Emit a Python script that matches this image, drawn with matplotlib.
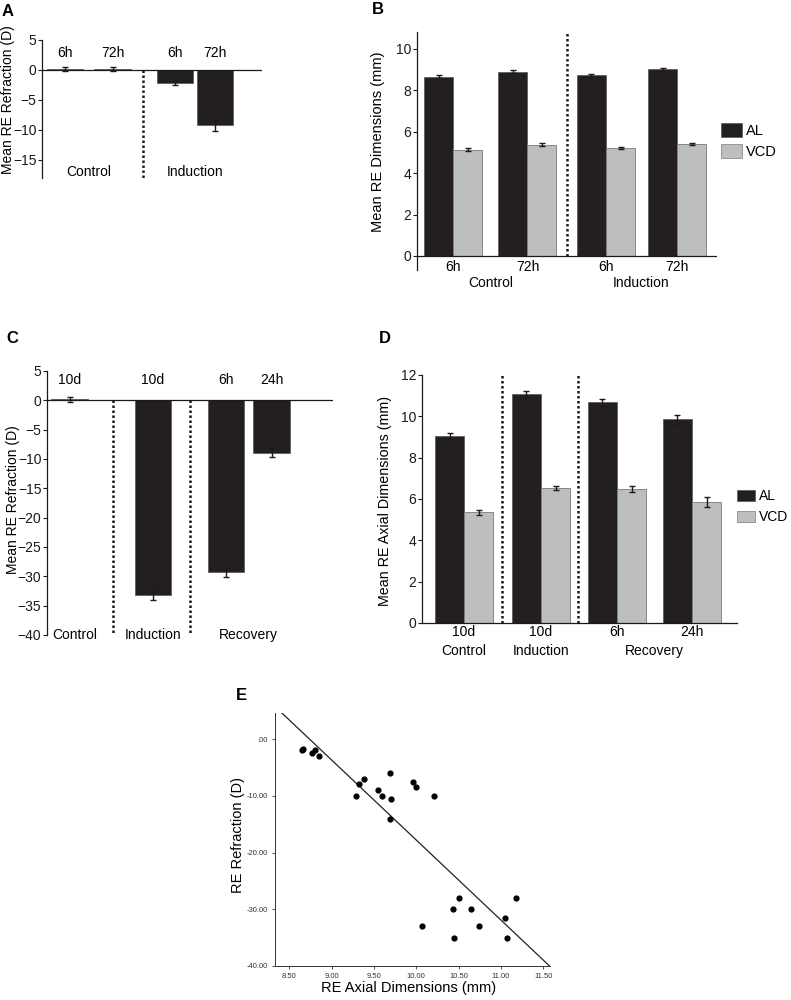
import matplotlib
matplotlib.use("Agg")
import matplotlib.pyplot as plt
from matplotlib.patches import Patch
import numpy as np

plt.rcParams['font.family'] = ['Liberation Sans', 'DejaVu Sans']

# ---- data ----
# A: refraction, short-term
a_times = ['6h', '72h', '6h', '72h']
a_groups = ['Control', 'Induction']
a_values = [0.2, 0.2, -2.2, -9.2]
a_errors = [0.3, 0.3, 0.3, 0.9]

# B: dimensions, short-term
b_times = ['6h', '72h', '6h', '72h']
b_groups = ['Control', 'Induction']
b_al = [8.65, 8.89, 8.72, 9.01]
b_al_err = [0.07, 0.07, 0.06, 0.07]
b_vcd = [5.13, 5.38, 5.21, 5.42]
b_vcd_err = [0.07, 0.06, 0.04, 0.06]

# C: refraction, long-term
c_times = ['10d', '10d', '6h', '24h']
c_groups = ['Control', 'Induction', 'Recovery']
c_values = [0.2, -33.1, -29.3, -8.9]
c_errors = [0.4, 0.9, 0.8, 0.7]

# D: axial dimensions, long-term
d_times = ['10d', '10d', '6h', '24h']
d_groups = ['Control', 'Induction', 'Recovery']
d_al = [9.05, 11.07, 10.68, 9.85]
d_al_err = [0.15, 0.15, 0.18, 0.2]
d_vcd = [5.35, 6.55, 6.47, 5.87]
d_vcd_err = [0.1, 0.1, 0.15, 0.25]

# E: scatter of refraction vs axial length
e_axial = [8.65, 8.66, 8.77, 8.80, 8.85, 9.29, 9.32, 9.38, 9.55, 9.59, 9.69, 9.70,
           9.69, 9.96, 10.00, 10.21, 10.07, 10.43, 10.45, 10.51, 10.65, 10.74,
           11.05, 11.07, 11.18]
e_refr = [-1.9, -1.7, -2.5, -2.0, -3.0, -10.0, -8.0, -7.0, -9.0, -10.0, -6.0, -10.5,
          -14.0, -7.5, -8.5, -10.0, -33.0, -30.0, -35.0, -28.0, -30.0, -33.0,
          -31.5, -35.0, -28.0]
e_fit_slope = -14.1
e_fit_intercept = 123.2

AL_COLOR = '#231f20'
VCD_COLOR = '#bdbec0'
DARK = '#1a1a1a'
W, H = 791, 1000

fig = plt.figure(figsize=(W / 100, H / 100), dpi=100)


def px_axes(left, top, right, bottom):
    return fig.add_axes([left / W, 1 - bottom / H, (right - left) / W, (bottom - top) / H])


def style_left(ax):
    for s in ['top', 'right', 'bottom']:
        ax.spines[s].set_visible(False)
    ax.spines['left'].set_linewidth(0.9)
    ax.spines['left'].set_color(DARK)
    ax.tick_params(axis='y', direction='out', length=3, width=0.8, labelsize=10, pad=1, colors=DARK)
    ax.tick_params(axis='x', length=0, labelbottom=False)


def divider(ax, x, y0, y1):
    ax.plot([x, x], [y0, y1], color=DARK, lw=1.8, ls=(0, (1, 1)), clip_on=False)


ekw = dict(ecolor=DARK, elinewidth=1, capsize=2.5, capthick=1)

# ---------- A ----------
axA = px_axes(42, 40, 262, 178)
a_pos = [0.49, 1.5, 2.83, 3.68]
axA.bar(a_pos, a_values, 0.78, color=AL_COLOR, edgecolor='#555555', lw=0.5,
        yerr=a_errors, error_kw=ekw, zorder=2)
axA.axhline(0, color=DARK, lw=0.9, zorder=3)
axA.set_xlim(0, 4.68)
axA.set_ylim(-18, 5)
axA.set_yticks([5, 0, -5, -10, -15])
style_left(axA)
divider(axA, 2.15, 0, -18)
for x, t in zip(a_pos, a_times):
    axA.text(x, 2.8, t, ha='center', va='center', fontsize=10)
for i, g in enumerate(a_groups):
    axA.text(np.mean(a_pos[2 * i:2 * i + 2]), -17.0, g, ha='center', va='center', fontsize=10)
fig.text(8 / W, 1 - 100 / H, 'Mean RE Refraction (D)', rotation=90, ha='center', va='center', fontsize=10)

# ---------- B ----------
axB = px_axes(417, 32, 717, 270)
b_pos = np.array([0.493, 1.493, 2.554, 3.514])
bw = 0.392
axB.bar(b_pos - bw / 2, b_al, bw, color=AL_COLOR, edgecolor='#555555', lw=0.5,
        yerr=b_al_err, error_kw=ekw, label='AL', zorder=2)
axB.bar(b_pos + bw / 2, b_vcd, bw, color=VCD_COLOR, edgecolor='#7a7a7a', lw=0.6,
        yerr=b_vcd_err, error_kw=ekw, label='VCD', zorder=2)
axB.axhline(0, color=DARK, lw=0.9, zorder=3)
axB.set_xlim(0, 4.054)
axB.set_ylim(-0.68, 10.82)
axB.set_yticks([0, 2, 4, 6, 8, 10])
style_left(axB)
divider(axB, 2.027, 0, 10.82)
for x, t in zip(b_pos, b_times):
    axB.text(x, -0.53, t, ha='center', va='center', fontsize=10, clip_on=False)
for i, g in enumerate(b_groups):
    axB.text(np.mean(b_pos[2 * i:2 * i + 2]), -1.3, g, ha='center', va='center', fontsize=10, clip_on=False)
fig.text(378 / W, 1 - 142 / H, 'Mean RE Dimensions (mm)', rotation=90, ha='center', va='center', fontsize=10.5)
handles = [Patch(facecolor=AL_COLOR, edgecolor='#555555', lw=0.5),
           Patch(facecolor=VCD_COLOR, edgecolor='#7a7a7a', lw=0.5)]
fig.legend(handles, ['AL', 'VCD'], loc='upper left', bbox_to_anchor=(721 / W, 1 - 123 / H),
           frameon=False, fontsize=10.5, handlelength=1.45, handleheight=1.05,
           handletextpad=0.25, labelspacing=0.45, borderpad=0, borderaxespad=0)

# ---------- C ----------
axC = px_axes(47, 371, 333, 635)
c_pos = [0.479, 2.255, 3.809, 4.777]
axC.bar(c_pos, c_values, 0.77, color=AL_COLOR, edgecolor='#555555', lw=0.5,
        yerr=c_errors, error_kw=ekw, zorder=2)
axC.axhline(0, color=DARK, lw=0.9, zorder=3)
axC.set_xlim(0, 6.085)
axC.set_ylim(-40, 5)
axC.set_yticks([5, 0, -5, -10, -15, -20, -25, -30, -35, -40])
style_left(axC)
divider(axC, 1.404, 0, -40)
divider(axC, 3.043, 0, -40)
for x, t in zip(c_pos, c_times):
    axC.text(x, 3.4, t, ha='center', va='center', fontsize=10)
c_gx = [0.6, c_pos[1], np.mean(c_pos[2:])]
for x, g in zip(c_gx, c_groups):
    axC.text(x, -40, g, ha='center', va='center', fontsize=10, clip_on=False)
fig.text(13 / W, 1 - 500 / H, 'Mean RE Refraction (D)', rotation=90, ha='center', va='center', fontsize=10)

# ---------- D ----------
axD = px_axes(422, 375, 737, 623)
d_pos = np.array([0.553, 1.566, 2.566, 3.553])
dw = 0.382
axD.bar(d_pos - dw / 2, d_al, dw, color=AL_COLOR, edgecolor='#555555', lw=0.5,
        yerr=d_al_err, error_kw=ekw, zorder=2)
axD.bar(d_pos + dw / 2, d_vcd, dw, color=VCD_COLOR, edgecolor='#7a7a7a', lw=0.6,
        yerr=d_vcd_err, error_kw=ekw, zorder=2)
axD.set_xlim(0, 4.145)
axD.set_ylim(0, 12)
axD.set_yticks([0, 2, 4, 6, 8, 10, 12])
style_left(axD)
axD.spines['bottom'].set_visible(True)
axD.spines['bottom'].set_linewidth(0.9)
axD.spines['bottom'].set_color(DARK)
divider(axD, 1.053, 0, 12)
divider(axD, 2.053, 0, 12)
for x, t in zip(d_pos, d_times):
    axD.text(x, -0.44, t, ha='center', va='center', fontsize=10, clip_on=False)
d_gx = [d_pos[0], d_pos[1], np.mean(d_pos[2:])]
for x, g in zip(d_gx, d_groups):
    axD.text(x, -1.35, g, ha='center', va='center', fontsize=10, clip_on=False)
fig.text(385 / W, 1 - 501 / H, 'Mean RE Axial Dimensions (mm)', rotation=90, ha='center', va='center', fontsize=10.3)
fig.legend(handles, ['AL', 'VCD'], loc='upper left', bbox_to_anchor=(737 / W, 1 - 489 / H),
           frameon=False, fontsize=10, handlelength=1.3, handleheight=0.85,
           handletextpad=0.25, labelspacing=0.5, borderpad=0, borderaxespad=0)

# ---------- E ----------
axE = px_axes(275, 713, 550, 966)
axE.scatter(e_axial, e_refr, s=12, color='black', zorder=3)
xs = np.array([8.2, 11.8])
axE.plot(xs, e_fit_slope * xs + e_fit_intercept, color='#222222', lw=0.9)
axE.set_xlim(8.33, 11.58)
axE.set_ylim(-40, 4.6)
axE.set_xticks([8.5, 9.0, 9.5, 10.0, 10.5, 11.0, 11.5])
axE.set_xticklabels(['8.50', '9.00', '9.50', '10.00', '10.50', '11.00', '11.50'])
axE.set_yticks([0, -10, -20, -30, -40])
axE.set_yticklabels(['.00', '-10.00', '-20.00', '-30.00', '-40.00'])
for s in ['top', 'right']:
    axE.spines[s].set_visible(False)
for s in ['left', 'bottom']:
    axE.spines[s].set_linewidth(0.7)
    axE.spines[s].set_color('#333333')
axE.tick_params(direction='out', length=2.5, width=0.6, labelsize=5.5, colors='#333333', pad=2.5)
fig.text(409 / W, 1 - 988 / H, 'RE Axial Dimensions (mm)', ha='center', va='center', fontsize=10.5)
fig.text(238 / W, 1 - 835 / H, 'RE Refraction (D)', rotation=90, ha='center', va='center', fontsize=10.5)

# panel letters
for lab, x, y in [('A', 8, 11), ('B', 378, 9), ('C', 12, 338), ('D', 385, 338), ('E', 241, 695)]:
    fig.text(x / W, 1 - y / H, lab, ha='center', va='center', fontsize=12, fontweight='bold')

fig.savefig('out.png', dpi=100)
